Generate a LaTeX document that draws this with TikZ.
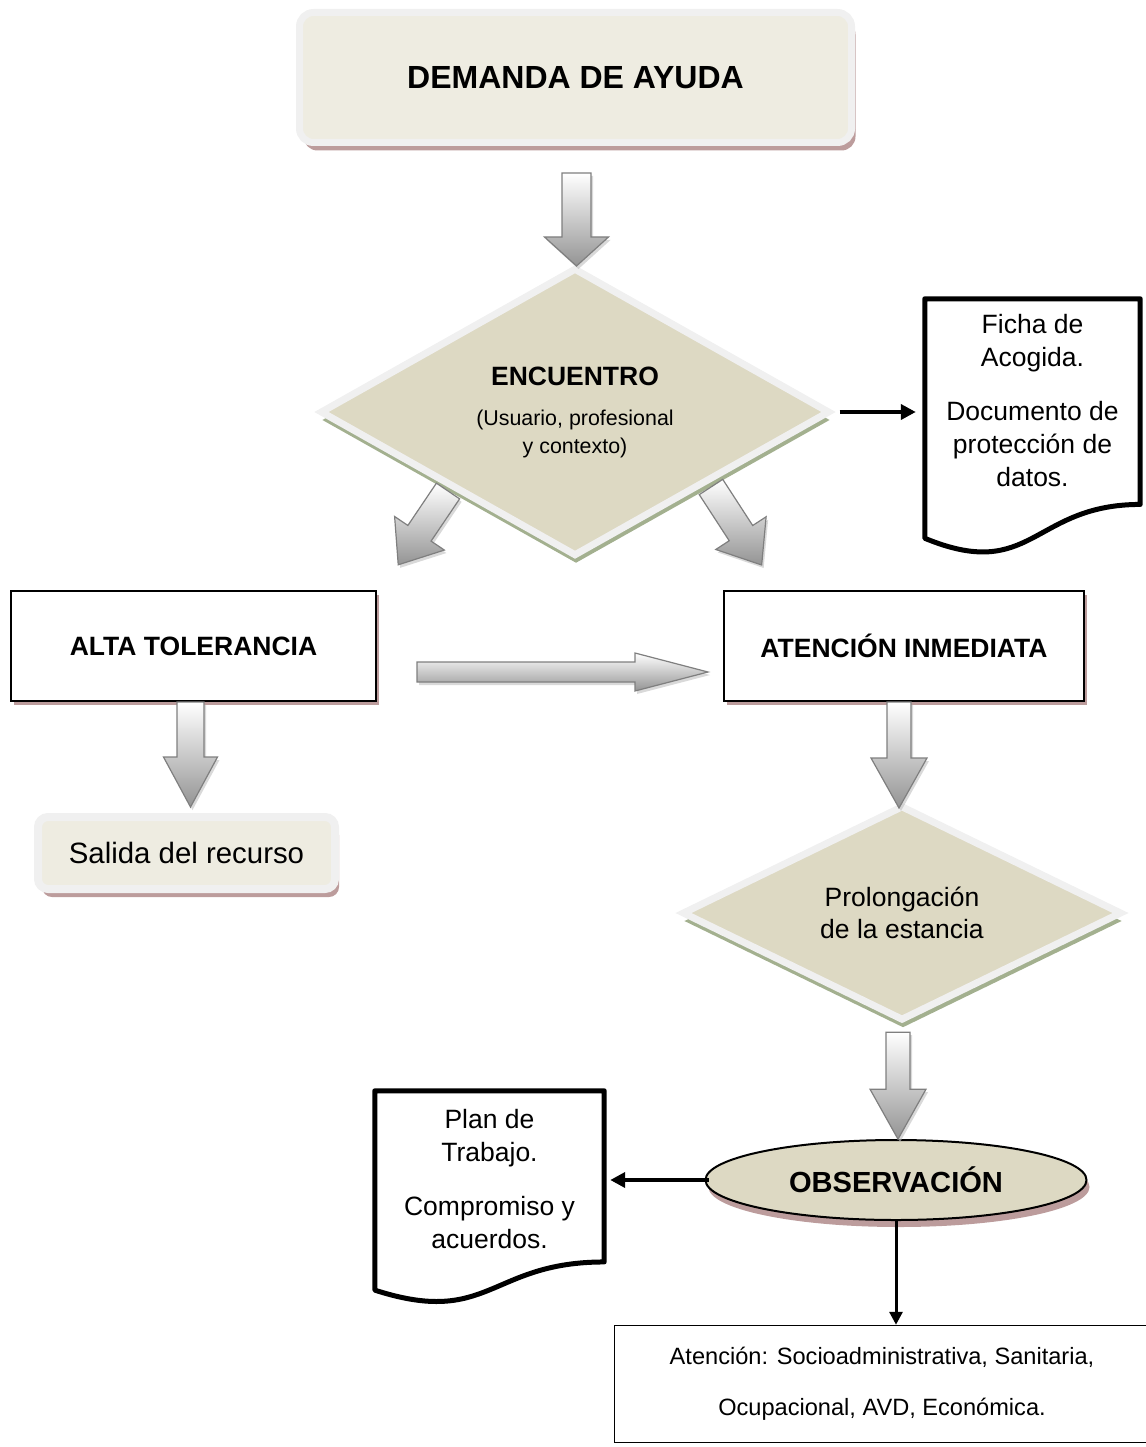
\documentclass[tikz,border=0pt]{standalone}
\usepackage{fontspec}
\setmainfont{Liberation Sans}
\usetikzlibrary{calc,shapes.geometric,shadows,arrows.meta}

\definecolor{tanfill}{HTML}{DDD9C3}
\definecolor{cremafill}{HTML}{EEECE1}
\definecolor{borde}{HTML}{F0F0F0}
\definecolor{sombraroja}{HTML}{BC9C9C}
\definecolor{sombraverde}{HTML}{A3B08F}
\definecolor{grisflecha}{HTML}{7F7F7F}

\tikzset{
  cajaredonda/.style={rectangle, rounded corners=14pt, draw=borde, line width=7pt, fill=cremafill,
    drop shadow={shadow xshift=4pt, shadow yshift=-8pt, fill=sombraroja, opacity=1}},
  cajanegra/.style={rectangle, draw=black, line width=2pt, fill=white,
    drop shadow={shadow xshift=3pt, shadow yshift=-4pt, fill=sombraroja, opacity=1}},
  rombo/.style={diamond, draw=borde, line width=7pt, fill=tanfill, inner sep=0pt, align=center,
    drop shadow={shadow xshift=1pt, shadow yshift=-8pt, fill=sombraverde, opacity=1}},
  cuerpodoc/.style={rectangle, inner sep=0pt},
  lineadoc/.style={line width=5pt, line join=round},
  negrita/.style={font=\fontsize{26.5}{32}\selectfont\bfseries},
  normal/.style={font=\fontsize{26.5}{33}\selectfont},
  flechanegra/.style={line width=4pt, -{Triangle[length=15pt,width=15pt]}},
  flechasombra/.style={fill=black!25, opacity=.6},
  flechacuerpo/.style={draw=grisflecha, line width=1.2pt, top color=white, bottom color=black!42}
}

% flecha de bloque: inicio, angulo, largo, medio ancho del cuerpo, medio ancho de la punta, largo de la punta
\newcommand{\flecha}[6]{%
  \fill[flechasombra, shift={(#1)}, shift={(2,3)}, rotate=#2]
    (0,-#4) -- ({#3-#6},-#4) -- ({#3-#6},-#5) -- (#3,0) -- ({#3-#6},#5) -- ({#3-#6},#4) -- (0,#4) -- cycle;
  \shade[flechacuerpo, shift={(#1)}, rotate=#2]
    (0,-#4) -- ({#3-#6},-#4) -- ({#3-#6},-#5) -- (#3,0) -- ({#3-#6},#5) -- ({#3-#6},#4) -- (0,#4) -- cycle;
}

\begin{document}
\begin{tikzpicture}[x=1pt, y=-1pt]
  \useasboundingbox (0,0) rectangle (1145,1447);

  % cajas y rombos
  \node[cajaredonda, minimum width=552pt, minimum height=130pt, font=\fontsize{32}{38}\selectfont\bfseries] (dem) at (575.5,77.5) {DEMANDA DE AYUDA};
  \node[rombo, minimum width=510pt, minimum height=254pt, font=\fontsize{21.4}{28}\selectfont] (enc) at (575,412)
    {{\fontsize{26.5}{32}\selectfont\bfseries ENCUENTRO}\\[12pt](Usuario, profesional\\y contexto)};
  \node[cajanegra, negrita, minimum width=365pt, minimum height=110pt] (alta) at (193.5,646) {ALTA TOLERANCIA};
  \node[cajanegra, negrita, minimum width=360pt, minimum height=110pt] (aten) at (904,646) {ATENCIÓN INMEDIATA};
  \node[cajaredonda, rounded corners=10pt, line width=8pt, minimum width=297pt, minimum height=72pt,
    font=\fontsize{29.4}{35}\selectfont] (salida) at (186.5,853) {Salida del recurso};
  \node[rombo, minimum width=440pt, minimum height=188pt, font=\fontsize{26.5}{32}\selectfont] (prol) at (902,913) {Prolongación\\de la estancia};
  \node[ellipse, draw=black, line width=2pt, fill=tanfill, minimum width=381pt, minimum height=80pt, inner sep=0pt,
    font=\fontsize{29.1}{35}\selectfont\bfseries,
    drop shadow={shadow xshift=3pt, shadow yshift=-7pt, fill=sombraroja, opacity=1}] (obs) at (896,1180) {OBSERVACIÓN};
  \node[rectangle, draw=black, line width=1.5pt, minimum width=535pt, minimum height=117pt, align=center,
    font=\fontsize{23.6}{51}\selectfont] (atn) at (882,1384) {Atención: Socioadministrativa, Sanitaria,\\Ocupacional, AVD, Económica.};

  % documentos
  \node[cuerpodoc, minimum width=215pt, minimum height=256pt] (ficha) at (1032.5,427) {};
  \draw[lineadoc] (ficha.north west) -- (ficha.north east) -- ($(ficha.north east)!.802!(ficha.south east)$)
    .. controls ($(ficha.north)!.802!(ficha.south)$) and ($(ficha.north)!1.1075!(ficha.south)$) .. ($(ficha.north west)!.934!(ficha.south west)$) -- cycle;
  \node[normal, align=center] (fichatxt) at ($(ficha.center)+(0,-26)$) {Ficha de\\Acogida.\\[21pt]Documento de\\protección de\\datos.};

  \node[cuerpodoc, minimum width=229pt, minimum height=213pt] (plan) at (489.5,1197.5) {};
  \draw[lineadoc] (plan.north west) -- (plan.north east) -- ($(plan.north east)!.802!(plan.south east)$)
    .. controls ($(plan.north)!.802!(plan.south)$) and ($(plan.north)!1.1075!(plan.south)$) .. ($(plan.north west)!.934!(plan.south west)$) -- cycle;
  \node[normal, align=center] (plantxt) at ($(plan.center)+(0,-18)$) {Plan de\\Trabajo.\\[21pt]Compromiso y\\acuerdos.};

  % flechas de bloque
  \flecha{$(dem.south)+(1,27)$}{-90}{93}{14.5}{32}{29}
  \flecha{$(enc.center)+(-127,79)$}{236}{89}{14}{30}{38}
  \flecha{$(enc.center)+(136,75)$}{303}{93}{14}{30}{38}
  \flecha{$(alta.east)+(40,26)$}{0}{291}{10}{19}{73}
  \flecha{$(alta.south)+(-3,0)$}{-90}{105}{13.5}{27}{50}
  \flecha{$(aten.south)+(-5,0)$}{-90}{106}{12}{28}{50}
  \flecha{$(prol.south)+(-4,8)$}{-90}{107}{12}{28}{50}

  % flechas negras
  \draw[flechanegra, shorten <=6pt, shorten >=9pt] (enc.east) -- (enc.east -| ficha.west);
  \draw[flechanegra, shorten <=-4pt, shorten >=6pt] (obs.west) -- (obs.west -| plan.east);
  \draw[line width=3pt, -{Triangle[length=13pt,width=13pt]}] (obs.south) -- (obs.south |- atn.north);
\end{tikzpicture}
\end{document}
